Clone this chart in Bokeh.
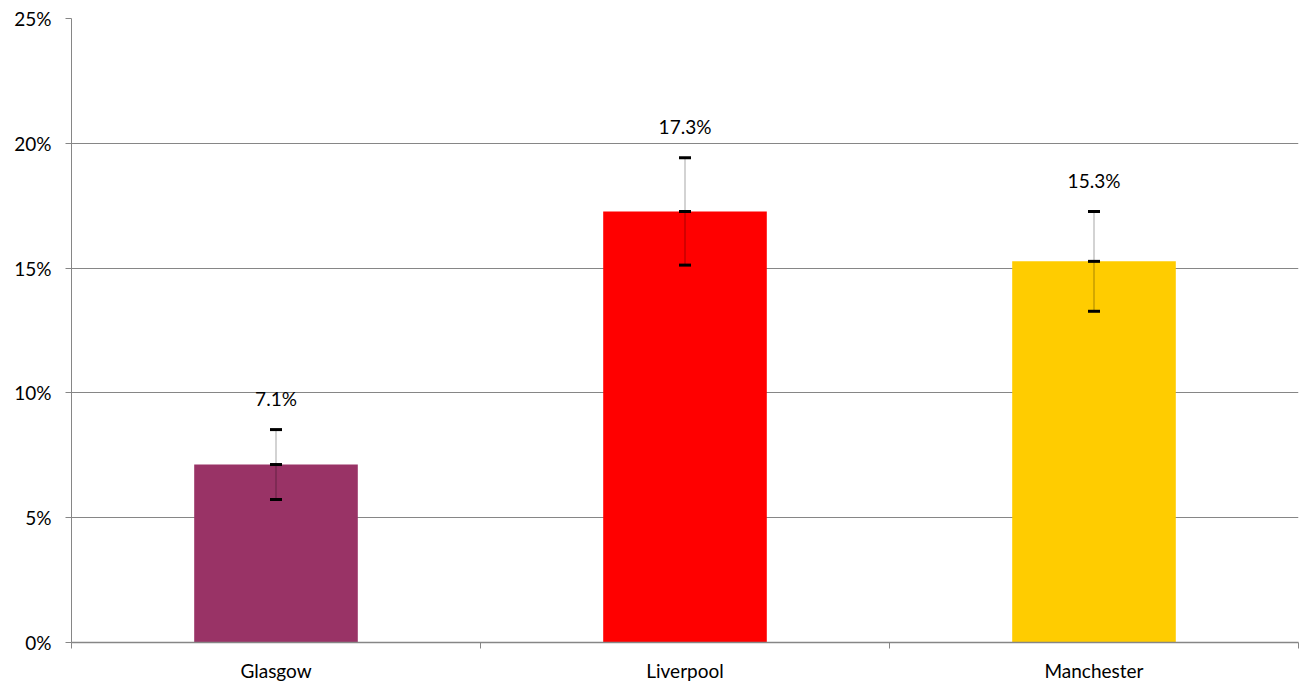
from bokeh.plotting import figure
from bokeh.models import ColumnDataSource, Range1d, FixedTicker, NumeralTickFormatter, Whisker, TeeHead
from bokeh.core.properties import value
from bokeh.embed import file_html
from bokeh.resources import INLINE

cities = ["Glasgow", "Liverpool", "Manchester"]
shares = [0.0713, 0.1727, 0.1527]
errors = [0.014, 0.0215, 0.020]
colors = ["#993366", "#FF0000", "#FFCC00"]
labels = ["7.1%", "17.3%", "15.3%"]
y_ticks = [0, 0.05, 0.10, 0.15, 0.20, 0.25]

FONT = "Lato"
FS = "19px"

xs = [i + 0.5 for i in range(len(cities))]
src = ColumnDataSource(dict(
    x=xs, y=shares, color=colors, label=labels,
    upper=[v + e for v, e in zip(shares, errors)],
    lower=[v - e for v, e in zip(shares, errors)],
))

p = figure(width=1304, height=688, output_backend="svg", toolbar_location=None,
           x_range=Range1d(0, len(cities)), y_range=Range1d(0, 0.25),
           min_border_left=71, min_border_right=6, min_border_top=18, min_border_bottom=46)
p.outline_line_color = None
p.background_fill_color = "white"
p.border_fill_color = "white"

p.vbar(x="x", top="y", width=0.4, bottom=0, fill_color="color", line_color=None, source=src)

w = Whisker(base="x", upper="upper", lower="lower", source=src, level="overlay",
            line_color="black", line_alpha=0.35, line_width=1,
            upper_head=TeeHead(size=12, line_width=3, line_color="black"),
            lower_head=TeeHead(size=12, line_width=3, line_color="black"))
p.add_layout(w)
p.scatter(x="x", y="y", marker="dash", size=12, line_width=3, line_color="black", source=src)

p.text(x="x", y="upper", text="label", source=src, text_align="center", text_baseline="middle",
       y_offset=-31, text_font=value(FONT), text_font_size=FS, text_color="black")

# axes
p.xaxis.ticker = FixedTicker(ticks=xs, minor_ticks=list(range(len(cities) + 1)))
p.xaxis.major_label_overrides = {x: c for x, c in zip(xs, cities)}
p.xaxis.major_tick_line_color = None
p.xaxis.minor_tick_line_color = "#868686"
p.xaxis.minor_tick_out = 6
p.xaxis.minor_tick_in = 0
p.xaxis.axis_line_color = "#868686"
p.xaxis.axis_line_width = 1.5
p.xaxis.major_label_text_font = FONT
p.xaxis.major_label_text_font_size = FS
p.xaxis.major_label_text_color = "black"
p.xaxis.major_label_standoff = 10

p.yaxis.ticker = FixedTicker(ticks=y_ticks, minor_ticks=[])
p.yaxis.formatter = NumeralTickFormatter(format="0%")
p.yaxis.major_tick_line_color = "#868686"
p.yaxis.major_tick_out = 6
p.yaxis.major_tick_in = 0
p.yaxis.axis_line_color = "#868686"
p.yaxis.major_label_text_font = FONT
p.yaxis.major_label_text_font_size = FS
p.yaxis.major_label_text_color = "black"
p.yaxis.major_label_standoff = 14

p.xgrid.grid_line_color = None
p.ygrid.grid_line_color = "#868686"
p.ygrid.grid_line_width = 1

open("out.html", "w").write(file_html(p, INLINE))
